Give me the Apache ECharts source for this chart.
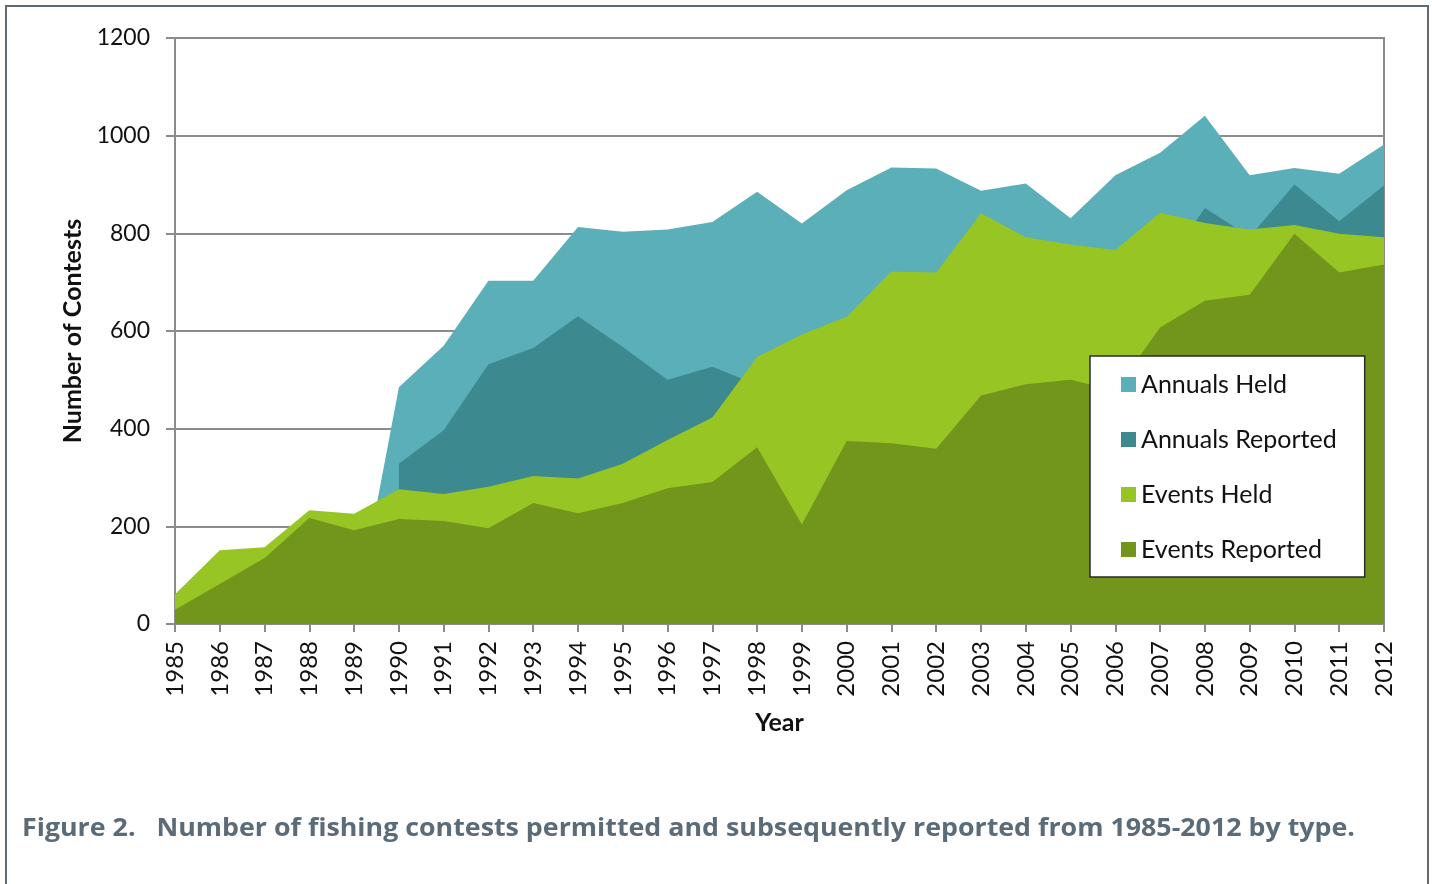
<!DOCTYPE html>
<html>
<head>
<meta charset="utf-8">
<script src="https://cdn.jsdelivr.net/npm/echarts@6/dist/echarts.min.js"></script>
<style>
  html, body { margin: 0; padding: 0; background: #fff; }
  .page { position: relative; width: 1432px; height: 884px; overflow: hidden; }
  .page__frame {
    position: absolute; left: 5px; top: 5px; width: 1420px; height: 920px;
    border: 2px solid #5f6b74;
  }
  .page__chart { position: absolute; left: 0; top: 0; width: 1432px; height: 884px; }
  .page__caption {
    position: absolute; left: 22px; top: 809px; white-space: pre; line-height: 34px;
    font-family: "Open Sans", sans-serif; font-weight: bold; font-size: 25px; color: #5c6b78;
    transform-origin: 0 0;
  }
</style>
</head>
<body>
<div class="page">
  <div class="page__frame"></div>
  <div id="chart" class="page__chart"></div>
  <div id="caption" class="page__caption">Figure 2.   Number of fishing contests permitted and subsequently reported from 1985-2012 by type.</div>
</div>
<script>
const years = ['1985', '1986', '1987', '1988', '1989', '1990', '1991', '1992', '1993', '1994',
  '1995', '1996', '1997', '1998', '1999', '2000', '2001', '2002', '2003', '2004',
  '2005', '2006', '2007', '2008', '2009', '2010', '2011', '2012']

const annualsHeld = [0, 0, 0, 0, 0, 485, 570, 703, 703, 813, 803, 808, 823, 885, 820, 888,
  935, 933, 887, 902, 831, 919, 965, 1041, 919, 934, 922, 982]
const annualsReported = [null, null, null, null, null, 328, 397, 532, 565, 630, 567, 500, 527, 490,
  480, 520, 560, 580, 620, 650, 670, 690, 720, 852, 793, 900, 825, 898]
const eventsHeld = [61, 151, 157, 233, 226, 276, 266, 281, 303, 298, 328, 377, 423, 547, 593, 629,
  722, 720, 841, 792, 777, 766, 842, 821, 808, 817, 799, 792]
const eventsReported = [29, 82, 135, 217, 192, 215, 211, 196, 248, 227, 248, 278, 291, 362, 204, 375,
  370, 359, 468, 491, 500, 478, 607, 662, 674, 799, 720, 736]

const yTicks = { min: 0, max: 1200, interval: 200 }

const gray = '#8c8c8c'
const font = 'Lato, "Open Sans", sans-serif'

// caption in the source is a wide Calibri; stretch it to the same run length
const caption = document.getElementById('caption')
caption.style.transform = 'scaleX(' + (1333 / caption.offsetWidth).toFixed(4) + ')'

const areaSeries = (name, data, color) => ({
  name,
  type: 'line',
  data,
  showSymbol: false,
  symbol: 'none',
  lineStyle: { width: 0 },
  itemStyle: { color },
  areaStyle: { color, opacity: 1 }
})

const chart = echarts.init(document.getElementById('chart'), null, { renderer: 'canvas' })

chart.setOption({
  animation: false,
  backgroundColor: 'transparent',
  grid: {
    left: 175, right: 48, top: 38, bottom: 260,
    show: true, borderColor: gray, borderWidth: 2, backgroundColor: 'transparent'
  },
  legend: {
    orient: 'vertical',
    left: 1090,
    top: 356,
    padding: [16, 28, 15, 31],
    itemGap: 30,
    itemWidth: 15,
    itemHeight: 15,
    icon: 'rect',
    backgroundColor: '#fff',
    borderColor: '#2a2a2a',
    borderWidth: 1.5,
    borderRadius: 0,
    textStyle: { fontFamily: font, fontSize: 25, color: '#111', lineHeight: 25 },
    data: ['Annuals Held', 'Annuals Reported', 'Events Held', 'Events Reported']
  },
  xAxis: {
    type: 'category',
    data: years,
    boundaryGap: false,
    name: 'Year',
    nameLocation: 'middle',
    nameGap: 86,
    nameTextStyle: { fontFamily: font, fontWeight: 'bold', fontSize: 25, color: '#111', verticalAlign: 'top' },
    axisLine: { lineStyle: { color: gray, width: 2 } },
    axisTick: { show: true, length: 8, lineStyle: { color: gray, width: 2 } },
    axisLabel: { rotate: 90, margin: 17, fontFamily: font, fontSize: 24, color: '#111', interval: 0 },
    splitLine: { show: false }
  },
  yAxis: {
    type: 'value',
    min: yTicks.min,
    max: yTicks.max,
    interval: yTicks.interval,
    name: 'Number of Contests',
    nameLocation: 'middle',
    nameGap: 90,
    nameTextStyle: { fontFamily: font, fontWeight: 'bold', fontSize: 25, color: '#111' },
    axisLine: { show: true, lineStyle: { color: gray, width: 2 } },
    axisTick: { show: true, length: 9, lineStyle: { color: gray, width: 2 } },
    axisLabel: { margin: 25, fontFamily: font, fontSize: 23, color: '#111', formatter: (v) => String(v) },
    splitLine: { lineStyle: { color: gray, width: 2 } }
  },
  series: [
    areaSeries('Annuals Held', annualsHeld, '#5aafb8'),
    areaSeries('Annuals Reported', annualsReported, '#3c8990'),
    areaSeries('Events Held', eventsHeld, '#97c524'),
    areaSeries('Events Reported', eventsReported, '#72951c')
  ]
})
</script>
</body>
</html>
